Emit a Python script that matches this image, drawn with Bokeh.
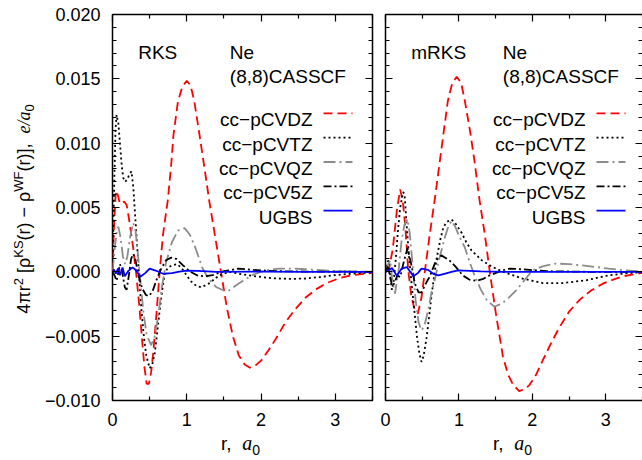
from bokeh.plotting import figure
from bokeh.models import Range1d, FixedTicker, LinearAxis, Label, Div, CustomJSTickFormatter
from bokeh.layouts import row, column
from bokeh.embed import file_html
from bokeh.resources import INLINE

# ---------------- data (r in a0, values in units of 1e-3 e/a0) ----------------
RKS_DZ_R = [0.00, 0.02, 0.045, 0.07, 0.10, 0.13, 0.16, 0.19, 0.22, 0.25, 0.28, 0.32, 0.36, 0.40, 0.43, 0.46,
            0.49, 0.52, 0.55, 0.59, 0.635, 0.68, 0.745, 0.79, 0.82, 0.88, 0.94, 1.00, 1.05, 1.10, 1.17, 1.24,
            1.30, 1.38, 1.46, 1.54, 1.62, 1.70, 1.78, 1.85, 1.93, 2.00, 2.10, 2.20, 2.33, 2.46, 2.60, 2.73,
            2.87, 3.05, 3.22, 3.50]
RKS_DZ_V = [0.0, 3.5, 6.3, 6.0, 5.3, 5.4, 5.45, 5.2, 4.2, 3.0, 1.8, -0.2, -2.6, -5.4, -7.4, -8.7,
            -8.7, -7.8, -6.2, -3.4, 0.0, 2.9, 5.6, 8.3, 10.6, 13.2, 14.4, 14.85, 14.5, 13.3, 10.7, 8.0,
            5.6, 2.8, 0.0, -2.8, -5.0, -6.5, -7.2, -7.45, -7.25, -6.9, -6.1, -5.2, -3.9, -2.9, -2.0, -1.4,
            -0.9, -0.5, -0.27, -0.08]

RKS_TZ_R = [0.00, 0.02, 0.04, 0.055, 0.08, 0.10, 0.125, 0.145, 0.17, 0.20, 0.23, 0.255, 0.28, 0.30, 0.345,
            0.39, 0.425, 0.455, 0.50, 0.535, 0.57, 0.60, 0.635, 0.67, 0.70, 0.74, 0.80, 0.87, 0.93, 0.99,
            1.05, 1.13, 1.20, 1.30, 1.43, 1.57, 1.75, 1.93, 2.15, 2.40, 2.60, 2.80, 2.95, 3.27, 3.50]
RKS_TZ_V = [0.0, 6.0, 11.0, 12.2, 11.5, 10.0, 8.2, 7.3, 7.0, 7.2, 7.6, 7.8, 6.6, 4.8, 0.9,
            -3.0, -5.2, -6.5, -7.5, -7.2, -6.3, -4.8, -3.0, -1.4, -0.2, 0.3, 0.5, 0.6, 0.3, -0.2,
            -0.7, -1.1, -1.2, -0.9, -0.3, 0.0, -0.2, -0.35, -0.5, -0.55, -0.52, -0.4, -0.28, -0.12, -0.04]

RKS_QZ_R = [0.00, 0.03, 0.06, 0.08, 0.11, 0.14, 0.17, 0.20, 0.24, 0.28, 0.31, 0.34, 0.38, 0.42, 0.46, 0.52,
            0.57, 0.62, 0.67, 0.72, 0.80, 0.88, 0.97, 1.04, 1.12, 1.21, 1.30, 1.40, 1.50, 1.57, 1.70, 1.88,
            2.05, 2.24, 2.45, 2.60, 2.80, 3.04, 3.30, 3.50]
RKS_QZ_V = [0.0, 1.8, 3.3, 3.5, 2.6, 1.2, 0.6, 1.2, 2.8, 3.8, 3.2, 1.5, -1.0, -3.3, -4.9, -5.7,
            -5.0, -3.2, -1.0, 0.7, 2.3, 3.2, 3.4, 2.9, 1.8, 0.3, -0.6, -1.2, -1.45, -1.44, -0.9, -0.25,
            0.1, 0.25, 0.25, 0.2, 0.13, 0.05, 0.02, 0.01]

RKS_5Z_R = [0.00, 0.03, 0.055, 0.08, 0.10, 0.13, 0.166, 0.19, 0.22, 0.25, 0.28, 0.31, 0.35, 0.40, 0.45,
            0.49, 0.54, 0.60, 0.66, 0.72, 0.79, 0.86, 0.95, 1.05, 1.15, 1.25, 1.35, 1.50, 1.70, 1.90, 2.20,
            2.60, 3.50]
RKS_5Z_V = [0.0, -0.3, -0.7, 0.0, 0.6, 0.0, -1.2, -1.4, -0.3, 1.0, 1.4, 0.9, -0.3, -1.3, -1.8,
            -1.9, -1.5, -0.5, 0.3, 0.9, 1.1, 1.0, 0.5, 0.0, -0.3, -0.35, -0.25, 0.05, 0.25, 0.15, 0.05,
            0.02, 0.0]

RKS_UG_R = [0.00, 0.02, 0.045, 0.077, 0.10, 0.135, 0.166, 0.21, 0.27, 0.32, 0.375, 0.44, 0.50, 0.58, 0.68,
            0.80, 0.90, 1.00, 1.15, 1.40, 2.00, 2.60, 3.50]
RKS_UG_V = [0.0, 0.18, -0.13, 0.26, -0.26, 0.34, -0.34, 0.05, 0.35, 0.1, -0.38, -0.1, 0.25, 0.1, -0.15,
            -0.1, 0.02, 0.1, 0.07, 0.0, 0.02, 0.0, 0.0]

MRKS_DZ_R = [0.00, 0.05, 0.10, 0.155, 0.20, 0.235, 0.27, 0.31, 0.35, 0.39, 0.44, 0.49, 0.535, 0.60, 0.67,
             0.74, 0.80, 0.85, 0.91, 0.97, 1.03, 1.08, 1.15, 1.21, 1.28, 1.35, 1.42, 1.51, 1.60, 1.67, 1.74,
             1.82, 1.90, 1.96, 2.05, 2.14, 2.25, 2.37, 2.50, 2.64, 2.80, 2.96, 3.10, 3.23, 3.50]
MRKS_DZ_V = [0.0, 0.3, 1.8, 4.8, 6.4, 5.5, 3.5, 0.1, -1.8, -2.8, -3.25, -2.0, 0.0, 2.8, 5.6,
             8.6, 11.2, 13.3, 14.7, 15.15, 14.7, 13.3, 11.0, 8.7, 5.6, 3.0, 0.0, -3.5, -6.6, -8.0, -8.8,
             -9.27, -9.1, -8.8, -8.0, -6.9, -5.6, -4.3, -3.1, -2.2, -1.45, -0.92, -0.6, -0.35, -0.08]

MRKS_TZ_R = [0.00, 0.02, 0.04, 0.065, 0.087, 0.11, 0.14, 0.17, 0.20, 0.24, 0.26, 0.29, 0.32, 0.36, 0.40,
             0.43, 0.46, 0.49, 0.52, 0.56, 0.60, 0.63, 0.67, 0.70, 0.75, 0.79, 0.84, 0.90, 0.96, 1.04,
             1.10, 1.17, 1.31, 1.45, 1.60, 1.87, 2.14, 2.41, 2.73, 3.04, 3.30, 3.50]
MRKS_TZ_V = [0.0, 0.6, 0.9, -0.3, -1.4, -0.8, 1.0, 3.2, 5.0, 6.2, 6.0, 3.5, 1.2, -1.2, -3.4,
             -5.1, -6.3, -7.0, -6.5, -5.1, -3.2, -1.7, 0.0, 1.15, 2.6, 3.5, 3.9, 4.06, 3.7, 3.0,
             2.3, 1.67, 0.9, 0.4, 0.0, -0.53, -0.87, -0.87, -0.66, -0.27, -0.1, -0.03]

MRKS_QZ_R = [0.00, 0.03, 0.065, 0.09, 0.13, 0.18, 0.22, 0.26, 0.30, 0.33, 0.37, 0.41, 0.45, 0.49, 0.53,
             0.58, 0.63, 0.67, 0.74, 0.81, 0.86, 0.90, 0.95, 1.01, 1.08, 1.15, 1.22, 1.30, 1.38, 1.48,
             1.58, 1.68, 1.78, 1.90, 2.00, 2.15, 2.32, 2.50, 2.68, 2.86, 3.04, 3.25, 3.50]
MRKS_QZ_V = [0.0, 0.5, 0.9, -0.5, -1.7, 0.2, 2.5, 3.7, 4.1, 3.0, 0.5, -2.2, -3.9, -4.55, -4.2,
             -3.0, -1.5, -0.66, 1.2, 2.7, 3.6, 3.95, 3.5, 2.7, 1.9, 0.7, -0.4, -1.4, -2.2, -2.7,
             -2.5, -2.0, -1.44, -0.6, 0.1, 0.45, 0.64, 0.6, 0.5, 0.38, 0.25, 0.12, 0.04]

MRKS_5Z_R = [0.00, 0.03, 0.06, 0.09, 0.12, 0.16, 0.20, 0.25, 0.30, 0.35, 0.40, 0.45, 0.49, 0.55, 0.60,
             0.69, 0.76, 0.87, 0.96, 1.05, 1.14, 1.24, 1.33, 1.42, 1.60, 1.69, 1.85, 2.20, 2.80, 3.50]
MRKS_5Z_V = [0.0, 0.4, -0.3, -1.1, -0.9, -0.3, -0.4, 0.8, 1.85, 0.6, -0.9, -1.6, -1.6, -0.9, -0.4,
             0.9, 1.28, 0.9, 0.37, -0.27, -0.6, -0.7, -0.55, -0.27, 0.12, 0.25, 0.2, 0.05, 0.0, 0.0]

MRKS_UG_R = [0.00, 0.04, 0.088, 0.12, 0.155, 0.22, 0.29, 0.33, 0.38, 0.44, 0.49, 0.58, 0.65, 0.72, 0.80,
             0.90, 0.99, 1.15, 1.30, 1.60, 2.50, 3.50]
MRKS_UG_V = [0.0, 0.1, 0.3, 0.0, -0.3, 0.25, 0.37, 0.05, -0.35, -0.1, 0.25, 0.15, -0.15, -0.27, -0.15,
             0.0, 0.12, 0.08, 0.03, 0.0, 0.0, 0.0]

SERIES_NAMES = ["cc\u2212pCVDZ", "cc\u2212pCVTZ", "cc\u2212pCVQZ", "cc\u2212pCV5Z", "UGBS"]
RKS_SERIES = [(RKS_DZ_R, RKS_DZ_V), (RKS_TZ_R, RKS_TZ_V), (RKS_QZ_R, RKS_QZ_V),
              (RKS_5Z_R, RKS_5Z_V), (RKS_UG_R, RKS_UG_V)]
MRKS_SERIES = [(MRKS_DZ_R, MRKS_DZ_V), (MRKS_TZ_R, MRKS_TZ_V), (MRKS_QZ_R, MRKS_QZ_V),
               (MRKS_5Z_R, MRKS_5Z_V), (MRKS_UG_R, MRKS_UG_V)]

X_TICKS = [0, 1, 2, 3]
X_MINOR = [0.5, 1.5, 2.5, 3.5]
Y_TICKS = [-10, -5, 0, 5, 10, 15, 20]
Y_TICK_LABELS = ["\u22120.010", "\u22120.005", "0.000", "0.005", "0.010", "0.015", "0.020"]
Y_MINOR = list(range(-10, 21))

# ---------------- styles ----------------
COLORS = ["#ff0000", "#000000", "#8c8c8c", "#000000", "#0000ff"]
DASHES = ["9 5", "2 3", "12 4 2 4", "8 3 2 3", "solid"]
WIDTHS = [1.8, 1.8, 1.8, 1.8, 1.8]

FONT = "Liberation Sans"
FS = "19px"
TICK_FS = "18px"
FIG_H = 436
FRAME_H = 386
X_MIN, X_MAX = 0, 3.5
Y_MIN, Y_MAX = -10, 20


def style_axis(ax, is_x, show_labels, line=False):
    ax.ticker = FixedTicker(ticks=X_TICKS if is_x else Y_TICKS,
                            minor_ticks=X_MINOR if is_x else Y_MINOR)
    if line:
        ax.axis_line_color = "black"
        ax.axis_line_width = 1.5
    else:
        ax.axis_line_color = None
    ax.major_tick_in = 7
    ax.major_tick_out = 0
    ax.minor_tick_in = 4
    ax.minor_tick_out = 0
    ax.major_tick_line_color = "black"
    ax.minor_tick_line_color = "black"
    ax.major_tick_line_width = 1.2
    ax.minor_tick_line_width = 1.2
    if show_labels:
        ax.major_label_text_font = FONT
        ax.major_label_text_font_size = TICK_FS
        ax.major_label_text_color = "black"
        ax.major_label_standoff = 12
        if not is_x:
            ax.formatter = CustomJSTickFormatter(
                args=dict(tick_vals=Y_TICKS, tick_texts=Y_TICK_LABELS),
                code="for (let i = 0; i < tick_vals.length; i++) {"
                     " if (Math.abs(tick_vals[i] - tick) < 1e-9) return tick_texts[i]; }"
                     " return '';")
    else:
        ax.formatter = CustomJSTickFormatter(code="return '';")
        ax.major_label_text_font_size = "0px"
        ax.major_label_text_color = None
        ax.major_label_standoff = 0


def add_text(p, x, y_from_top, text, align="left"):
    p.add_layout(Label(x=x, y=FRAME_H - y_from_top, x_units="screen", y_units="screen",
                       text=text, text_align=align, text_baseline="alphabetic",
                       text_font=FONT, text_font_size=FS, text_color="black"))


def make_panel(method, series, width, border_left, border_right, frame_w, show_ylabels, open_right):
    p = figure(width=width, height=FIG_H, output_backend="svg", toolbar_location=None,
               x_range=Range1d(X_MIN, X_MAX), y_range=Range1d(Y_MIN, Y_MAX),
               min_border_left=border_left, min_border_right=border_right,
               min_border_top=14, min_border_bottom=FIG_H - 14 - FRAME_H)
    p.xgrid.visible = False
    p.ygrid.visible = False
    p.border_fill_color = "white"
    p.background_fill_color = "white"
    if open_right:
        # frame continues past the window edge: draw only left, top and bottom edges
        p.outline_line_color = None
    else:
        p.outline_line_color = "black"
        p.outline_line_width = 1.5
    style_axis(p.xaxis[0], True, True, line=open_right)
    style_axis(p.yaxis[0], False, show_ylabels, line=open_right)
    top = LinearAxis()
    style_axis(top, True, False, line=open_right)
    p.add_layout(top, "above")
    right = LinearAxis()
    style_axis(right, False, False, line=False)
    p.add_layout(right, "right")

    for (r, v), c, d, w in zip(series, COLORS, DASHES, WIDTHS):
        p.line(r, v, line_color=c, line_dash=d, line_width=w)

    add_text(p, 25.7, 38.3, method)
    add_text(p, 117.3, 38.3, "Ne")
    add_text(p, 117.3, 62.0, "(8,8)CASSCF")

    def sx(px):
        return X_MIN + (X_MAX - X_MIN) * px / frame_w

    def sy(py_from_top):
        return Y_MAX - (Y_MAX - Y_MIN) * py_from_top / FRAME_H

    for i, (name, c, d, w) in enumerate(zip(SERIES_NAMES, COLORS, DASHES, WIDTHS)):
        base = 105.3 + 24.35 * i
        add_text(p, 200, base, name, align="right")
        ly = sy(base - 6.5)
        p.line([sx(211), sx(240)], [ly, ly], line_color=c, line_dash=d, line_width=w)
    return p


YDIV_W = 40
P1_W, P2_W = 338, 264
p1 = make_panel("RKS", RKS_SERIES, width=P1_W, border_left=112 - YDIV_W, border_right=6, frame_w=260,
                show_ylabels=True, open_right=False)
p2 = make_panel("mRKS", MRKS_SERIES, width=P2_W, border_left=7, border_right=0, frame_w=257,
                show_ylabels=False, open_right=True)

ylabel_html = (
    '<div style="position:relative;width:%dpx;height:460px;">'
    '<div style="position:absolute;left:25px;top:209px;transform:translate(-50%%,-50%%) rotate(-90deg);'
    'white-space:nowrap;font-family:\'Liberation Sans\';font-size:18px;color:#000;line-height:1;">'
    '4\u03c0r<sup style="font-size:0.72em">2</sup> [\u03c1<sup style="font-size:0.72em">KS</sup>(r) \u2212 '
    '\u03c1<sup style="font-size:0.72em">WF</sup>(r)],&nbsp; '
    '<span style="font-family:\'Liberation Serif\';font-style:italic;">e/a</span>'
    '<sub style="font-size:0.72em">0</sub>'
    '</div></div>' % YDIV_W
)
ylab = Div(text=ylabel_html, width=YDIV_W, height=460, margin=(0, 0, 0, 0))


def xlabel_div(left, width):
    html = (
        '<div style="position:relative;width:%dpx;height:24px;">'
        '<div style="position:absolute;left:%dpx;top:-2px;white-space:nowrap;'
        'font-family:\'Liberation Sans\';font-size:19px;line-height:19px;color:#000;">'
        'r,&nbsp; <span style="font-family:\'Liberation Serif\';font-style:italic;font-size:20px;">a</span>'
        '<sub style="font-size:14px;">0</sub></div></div>' % (width, left)
    )
    return Div(text=html, width=width, height=24, margin=(0, 0, 0, 0))


x1 = xlabel_div(221 - YDIV_W, P1_W)
x2 = xlabel_div(493 - (YDIV_W + P1_W), P2_W)

layout = row(ylab, column(row(p1, p2), row(x1, x2)))
open("out.html", "w").write(file_html(layout, INLINE))
